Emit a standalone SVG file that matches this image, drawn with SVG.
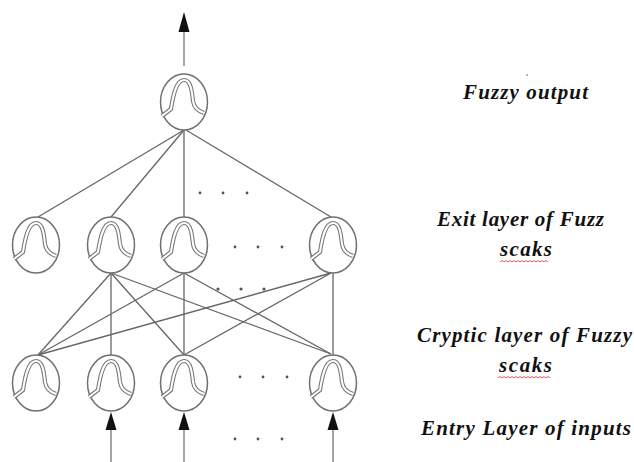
<svg xmlns="http://www.w3.org/2000/svg" xmlns:xlink="http://www.w3.org/1999/xlink" width="634" height="462" viewBox="0 0 634 462">
<style>
.conn{stroke:#666;stroke-width:1.3;fill:none}
.shaft{stroke:#888;stroke-width:1.5;fill:none}
.head{fill:#111}
.ring{fill:#fff;stroke:#707070;stroke-width:1.5}
.bellO{fill:none;stroke:#777;stroke-width:4.2}
.bellI{fill:none;stroke:#fff;stroke-width:2}
.dot{fill:#555}
.lbl{font-family:"Liberation Serif","Times New Roman",serif;font-size:21px;font-weight:bold;font-style:italic;fill:#111}
.sq{fill:none;stroke:#e03030;stroke-width:0.8}
</style>
<defs>
<g id="neuron">
<ellipse class="ring" cx="0" cy="0" rx="23.5" ry="28"/>
<path class="bellO" d="M -22 14 L -13 7 C -11 -6 -8 -22 0 -22 C 7 -22 8 -10 9 -1 C 10 6 14 9 20 11"/>
<path class="bellI" d="M -22 14 L -13 7 C -11 -6 -8 -22 0 -22 C 7 -22 8 -10 9 -1 C 10 6 14 9 20 11"/>
</g>
</defs>
<rect width="634" height="462" fill="#fff"/>
<g id="connectors">
<line class="shaft" x1="184" y1="30" x2="184" y2="66"/>
<polygon class="head" points="184,12 178.5,32 189.5,32"/>
<line class="conn" x1="184" y1="130" x2="38" y2="217"/>
<line class="conn" x1="184" y1="130" x2="111" y2="217"/>
<line class="conn" x1="184" y1="130" x2="184" y2="217"/>
<line class="conn" x1="186" y1="130" x2="331" y2="217"/>
<line class="conn" x1="111" y1="273" x2="38" y2="355"/>
<line class="conn" x1="111" y1="273" x2="111" y2="355"/>
<line class="conn" x1="111" y1="273" x2="184" y2="355"/>
<line class="conn" x1="111" y1="273" x2="331" y2="354"/>
<line class="conn" x1="184" y1="273" x2="38" y2="355"/>
<line class="conn" x1="184" y1="273" x2="184" y2="355"/>
<line class="conn" x1="184" y1="273" x2="331" y2="354"/>
<line class="conn" x1="331" y1="273" x2="38" y2="355"/>
<line class="conn" x1="331" y1="273" x2="184" y2="355"/>
<line class="conn" x1="333" y1="273" x2="333" y2="355"/>
<line class="shaft" x1="111" y1="428" x2="111" y2="462"/>
<line class="shaft" x1="184" y1="428" x2="184" y2="462"/>
<line class="shaft" x1="333" y1="428" x2="333" y2="462"/>
<polygon class="head" points="111,412 105.5,430 116.5,430"/>
<polygon class="head" points="184,412 178.5,430 189.5,430"/>
<polygon class="head" points="333,412 327.5,430 338.5,430"/>
</g>
<g id="dots">
<circle class="dot" cx="200" cy="193" r="1.4"/><circle class="dot" cx="223" cy="193" r="1.4"/><circle class="dot" cx="247" cy="193" r="1.4"/>
<circle class="dot" cx="235" cy="247" r="1.4"/><circle class="dot" cx="258" cy="247" r="1.4"/><circle class="dot" cx="282" cy="247" r="1.4"/>
<circle class="dot" cx="218" cy="289" r="1.6"/><circle class="dot" cx="241" cy="289" r="1.6"/><circle class="dot" cx="264" cy="289" r="1.6"/>
<circle class="dot" cx="240" cy="377" r="1.4"/><circle class="dot" cx="263" cy="377" r="1.4"/><circle class="dot" cx="287" cy="377" r="1.4"/>
<circle class="dot" cx="235" cy="439" r="1.4"/><circle class="dot" cx="258" cy="439" r="1.4"/><circle class="dot" cx="282" cy="439" r="1.4"/>
<circle class="dot" cx="527" cy="75" r="0.8"/>
</g>
<g id="out"><use xlink:href="#neuron" href="#neuron" x="184" y="102"/></g>
<g id="exit1"><use xlink:href="#neuron" href="#neuron" x="36" y="245"/></g>
<g id="exit2"><use xlink:href="#neuron" href="#neuron" x="111" y="245"/></g>
<g id="exit3"><use xlink:href="#neuron" href="#neuron" x="184" y="245"/></g>
<g id="exit4"><use xlink:href="#neuron" href="#neuron" x="333" y="245"/></g>
<g id="cry1"><use xlink:href="#neuron" href="#neuron" x="36" y="383"/></g>
<g id="cry2"><use xlink:href="#neuron" href="#neuron" x="111" y="383"/></g>
<g id="cry3"><use xlink:href="#neuron" href="#neuron" x="184" y="383"/></g>
<g id="cry4"><use xlink:href="#neuron" href="#neuron" x="333" y="383"/></g>
<g id="labels">
<text class="lbl" x="463" y="99" textLength="125" lengthAdjust="spacing">Fuzzy output</text>
<text class="lbl" x="437" y="226" textLength="167" lengthAdjust="spacing">Exit layer of Fuzz</text>
<text class="lbl" x="500" y="256" textLength="52" lengthAdjust="spacing">scaks</text>
<text class="lbl" x="417" y="342" textLength="215" lengthAdjust="spacing">Cryptic layer of Fuzzy</text>
<text class="lbl" x="499" y="372" textLength="53" lengthAdjust="spacing">scaks</text>
<text class="lbl" x="421" y="435" textLength="210" lengthAdjust="spacing">Entry Layer of inputs</text>
<polyline class="sq" points="500,262 502,260.5 504,262 506,260.5 508,262 510,260.5 512,262 514,260.5 516,262 518,260.5 520,262 522,260.5 524,262 526,260.5 528,262 530,260.5 532,262 534,260.5 536,262 538,260.5 540,262 542,260.5 544,262 546,260.5 548,262"/>
<polyline class="sq" points="498,378 500,376.5 502,378 504,376.5 506,378 508,376.5 510,378 512,376.5 514,378 516,376.5 518,378 520,376.5 522,378 524,376.5 526,378 528,376.5 530,378 532,376.5 534,378 536,376.5 538,378 540,376.5 542,378 544,376.5 546,378 548,376.5 550,378"/>
</g>
</svg>
